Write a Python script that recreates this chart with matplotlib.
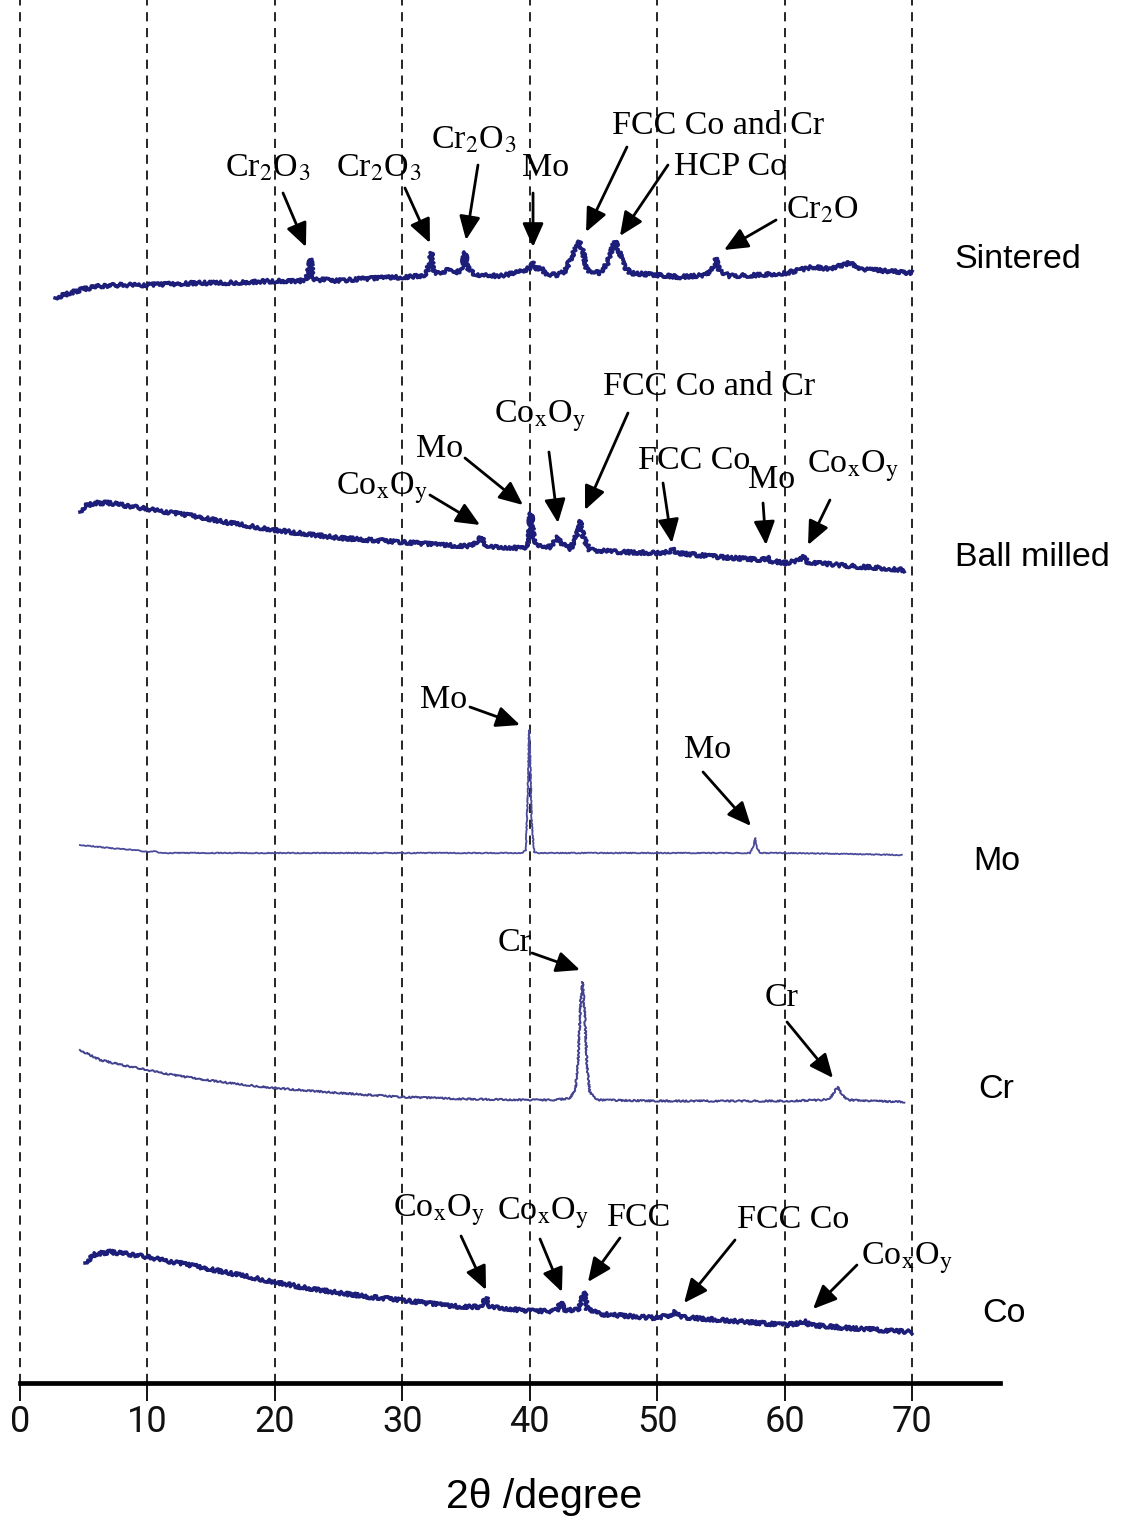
import matplotlib.pyplot as plt

plt.rcParams['mathtext.fontset'] = 'stix'

# Offset XRD patterns, 2theta in degrees, intensity in a.u. (stacked)
sintered_tt = [2.75, 3.9, 5.0, 6.3, 8, 10, 12, 14.1, 16, 18, 20, 21.2, 22.0, 22.5, 22.8, 23.0, 23.4, 23.7, 24.3,
               26.7, 30, 31.4, 31.9, 32.3, 32.5, 33, 33.5, 34.1, 34.7, 34.9, 35.2, 35.7, 37.7, 39.2, 40.0, 40.2,
               40.4, 40.8, 41.3, 42.2, 42.8, 43.2, 43.6, 43.9, 44.2, 44.5, 45.5, 46.1, 46.5, 46.7, 47.0, 47.4,
               47.9, 49.9, 51.8, 53.8, 54.3, 54.6, 54.9, 55.7, 58, 60.1, 62.2, 63.5, 65.1, 66, 68, 70]
sintered_i = [1223, 1228, 1232, 1235, 1236, 1236, 1237, 1238, 1238, 1239, 1240, 1240, 1240, 1242, 1262, 1243,
              1240, 1243, 1240, 1242, 1244, 1245, 1247, 1268, 1249, 1247, 1251, 1248, 1251, 1269, 1252, 1246,
              1245, 1249, 1253, 1259, 1251, 1254, 1247, 1246, 1250, 1262, 1272, 1279, 1268, 1251, 1248, 1258,
              1274, 1280, 1270, 1255, 1248, 1246, 1244, 1246, 1250, 1263, 1250, 1245, 1246, 1248, 1254, 1252,
              1258, 1252, 1250, 1248]

milled_tt = [4.7, 5.1, 5.9, 7.1, 8.5, 10, 12, 14.1, 16, 18, 20, 22.5, 25.1, 27.5, 30, 33, 35.3, 35.9, 36.2,
             36.5, 36.9, 39.2, 39.9, 40.05, 40.15, 40.3, 40.6, 41.6, 42.0, 42.2, 42.4, 43.2, 43.8, 44.0, 44.2,
             44.7, 47.1, 49.9, 50.9, 51.2, 51.5, 54.9, 58.3, 58.6, 58.9, 60.1, 61.2, 61.5, 61.8, 65.1, 67.5, 69.4]
milled_i = [1009, 1015, 1018, 1018, 1015, 1012, 1008, 1004, 999, 995, 991, 987, 983, 981, 979, 976, 975, 980,
            984, 977, 974, 973, 974, 1008, 1004, 982, 975, 974, 980, 984, 978, 972, 990, 1000, 984, 971, 969,
            968, 969, 972, 968, 964, 961, 964, 960, 958, 961, 964, 959, 955, 953, 951]

mo_tt = [4.7, 5.5, 7, 9, 10, 10.5, 11, 15, 20, 25, 30, 35, 39.4, 39.7, 39.85, 39.95, 40.05, 40.15, 40.35,
         40.7, 45, 50, 55, 57.3, 57.55, 57.7, 57.85, 58.1, 60, 65, 69.2]
mo_i = [676, 675, 673, 671, 669, 670, 668, 668, 668, 668, 668, 668, 668, 671, 730, 791, 760, 700, 669, 668,
        668, 668, 668, 668, 675, 683, 673, 668, 668, 667, 666]

cr_tt = [4.7, 5.5, 6.3, 8, 10, 12, 14.1, 17, 20, 25, 30, 35, 40, 42, 43.2, 43.6, 43.8, 44.0, 44.15, 44.3,
         44.5, 44.7, 45, 45.5, 50, 55, 60.1, 63.0, 63.6, 64.0, 64.2, 64.5, 65, 67, 69.4]
cr_i = [471, 466, 461, 456, 451, 446, 442, 437, 433, 428, 424, 422, 421, 421, 423, 433, 460, 520, 539, 510,
        455, 430, 424, 421, 420, 420, 420, 421, 423, 431, 434, 426, 421, 420, 419]

co_tt = [5.1, 5.9, 7.1, 8.5, 10, 12, 14.1, 16, 18, 20, 22.5, 25.1, 27.5, 30, 33.7, 36.1, 36.6, 36.9, 40, 42.1,
         42.4, 42.8, 43.8, 44.15, 44.3, 44.5, 45.5, 49.9, 51.1, 51.4, 51.8, 55, 60.1, 61.2, 61.5, 62, 65, 70]
co_i = [258, 267, 269, 267, 264, 259, 254, 249, 244, 239, 233, 228, 224, 221, 215, 214, 223, 214, 210, 210,
        219, 211, 211, 225, 229, 212, 207, 203, 206, 209, 204, 201, 196, 198, 200, 196, 193, 189]

sample_names = ['Sintered', 'Ball milled', 'Mo', 'Cr', 'Co']
sample_label_pos = [(73.37, 1261), (73.37, 964), (74.79, 659), (75.18, 431), (75.49, 208)]

tick_vals = [0, 10, 20, 30, 40, 50, 60, 70]

COXOY = r'Co$_{\rm x}$O$_{\rm y}$'
CR2O3 = r'Cr$_2$O$_3$'

# peak labels: (text, text position, arrow tail, arrow tip)
peak_labels = [
    (CR2O3, (19.46, 1353), (20.64, 1328), (22.44, 1274)),
    (CR2O3, (28.17, 1353), (30.21, 1333), (32.17, 1278)),
    (CR2O3, (35.63, 1381), (35.94, 1356), (35.0, 1281)),
    ('Mo', (41.28, 1353), (40.26, 1328), (40.26, 1274)),
    ('FCC Co and Cr', (54.77, 1395), (47.63, 1374), (44.42, 1289)),
    ('HCP Co', (55.72, 1354), (50.85, 1356), (47.08, 1285)),
    (r'Cr$_2$O', (62.94, 1311), (59.33, 1301), (55.25, 1271)),
    ('FCC Co and Cr', (54.07, 1134), (47.71, 1108), (44.34, 1011)),
    (COXOY, (40.81, 1105), (41.51, 1069), (42.22, 998)),
    ('Mo', (32.96, 1072), (34.92, 1063), (39.47, 1016)),
    (COXOY, (28.41, 1033), (32.17, 1026), (36.10, 996)),
    ('FCC Co', (52.89, 1060), (50.46, 1038), (51.16, 978)),
    ('Mo', (59.01, 1041), (58.31, 1018), (58.54, 976)),
    (COXOY, (65.37, 1055), (63.56, 1021), (61.84, 976)),
    ('Mo', (33.27, 821), (35.31, 814), (39.24, 796)),
    ('Mo', (53.99, 771), (53.6, 749), (57.36, 695)),
    ('Cr', (38.84, 578), (40.18, 568), (43.95, 551)),
    ('Cr', (59.8, 523), (60.19, 499), (63.8, 443)),
    (COXOY, (32.88, 311), (34.61, 285), (36.57, 231)),
    (COXOY, (41.04, 308), (40.81, 282), (42.53, 229)),
    ('FCC', (48.58, 303), (47.08, 283), (44.57, 239)),
    ('FCC Co', (60.66, 301), (56.11, 281), (52.11, 218)),
    (COXOY, (69.61, 263), (65.68, 256), (62.23, 212)),
]

fig = plt.figure(figsize=(11.21, 15.21), dpi=100)
ax = fig.add_axes([0, 0, 1, 1])
ax.set_xlim(-20 / 12.743, (1121 - 20) / 12.743)
ax.set_ylim(0, 1521)

# dashed guide lines
ax.vlines(tick_vals, 138, 1521, colors='k', linestyles=(0, (5.5, 4)), lw=1.2, zorder=1)

# patterns: noisy ones thick, pure elements thin
for tt, ii, lw, col, jit in [(sintered_tt, sintered_i, 2.5, '#1d1d7a', 1.8),
                             (milled_tt, milled_i, 2.5, '#1d1d7a', 1.8),
                             (mo_tt, mo_i, 1.3, '#4b4b9c', 0.4),
                             (cr_tt, cr_i, 1.4, '#42428f', 0.8),
                             (co_tt, co_i, 2.5, '#1d1d7a', 1.8)]:
    ln, = ax.plot(tt, ii, color=col, lw=lw, zorder=3)
    ln.set_sketch_params(scale=jit, length=2.5, randomness=6)

for txt, tpos, tail, tip in peak_labels:
    ax.text(tpos[0], tpos[1], txt, ha='center', va='center', fontsize=24.5,
            family='Liberation Serif', zorder=5)
    ax.annotate('', xy=tip, xytext=tail,
                arrowprops=dict(arrowstyle='-|>,head_length=0.9,head_width=0.4',
                                mutation_scale=16, lw=2, color='k',
                                shrinkA=0, shrinkB=0), zorder=5)

for name, (sx, sy) in zip(sample_names, sample_label_pos):
    ax.text(sx, sy, name, ha='left', va='center', fontsize=24.5, family='Liberation Sans')

# bottom axis
for s in ['top', 'right', 'left']:
    ax.spines[s].set_visible(False)
ax.spines['bottom'].set_position(('data', 138))
ax.spines['bottom'].set_bounds(0, 76.9)
ax.spines['bottom'].set_linewidth(3.4)
ax.set_yticks([])
ax.set_xticks(tick_vals)
ax.set_xticklabels([str(t) for t in tick_vals], family='Roboto', fontstretch='condensed',
                   fontweight='normal', fontsize=26, color='#111111')
ax.tick_params(axis='x', direction='out', length=13, width=1.3, pad=2)

ax.text(41.12, 24, '2θ /degree', ha='center', va='center', fontsize=29.5, family='Liberation Sans')

fig.savefig('out.png', dpi=100)
